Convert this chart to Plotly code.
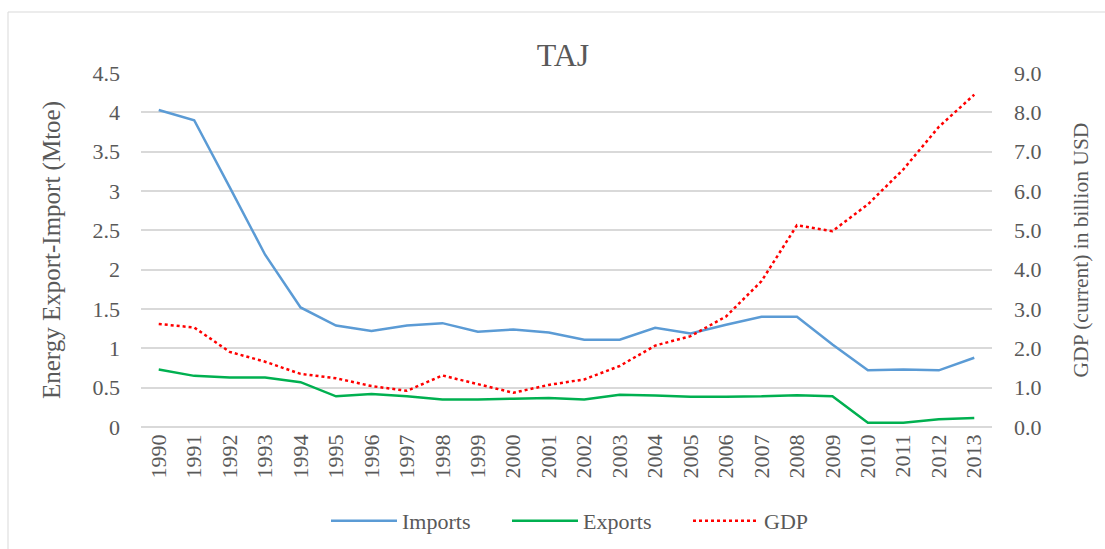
import plotly.graph_objects as go

years = [str(y) for y in range(1990, 2014)]
imports = [4.03, 3.90, 3.05, 2.19, 1.52, 1.29, 1.22, 1.29, 1.32, 1.21, 1.24, 1.20,
           1.11, 1.11, 1.26, 1.19, 1.30, 1.40, 1.40, 1.05, 0.72, 0.73, 0.72, 0.88]
exports = [0.73, 0.65, 0.63, 0.63, 0.57, 0.39, 0.42, 0.39, 0.35, 0.35, 0.36, 0.37,
           0.35, 0.41, 0.40, 0.385, 0.385, 0.39, 0.405, 0.39, 0.055, 0.055, 0.097, 0.114]
gdp = [2.62, 2.53, 1.91, 1.66, 1.35, 1.24, 1.04, 0.92, 1.31, 1.09, 0.87, 1.07,
       1.21, 1.55, 2.07, 2.31, 2.81, 3.71, 5.13, 4.98, 5.66, 6.55, 7.63, 8.45]

font_family = "Liberation Serif, Times New Roman, serif"
grey = "#595959"

fig = go.Figure()
fig.add_trace(go.Scatter(x=years, y=imports, name="Imports", mode="lines",
                         line=dict(color="#5b9bd5", width=2.5)))
fig.add_trace(go.Scatter(x=years, y=exports, name="Exports", mode="lines",
                         line=dict(color="#00b050", width=2.5)))
fig.add_trace(go.Scatter(x=years, y=gdp, name="GDP", mode="lines", yaxis="y2",
                         line=dict(color="#ff0000", width=2.5, dash="dot")))

fig.update_layout(
    width=1105, height=549,
    margin=dict(l=141, r=113, t=73, b=122, autoexpand=False),
    paper_bgcolor="white", plot_bgcolor="white",
    font=dict(family=font_family, color=grey, size=22),
    title=dict(text="TAJ", x=563 / 1105, xanchor="center", y=1 - 55 / 549, yanchor="middle",
               font=dict(size=32, color=grey, family=font_family)),
    xaxis=dict(type="category", range=[-0.5, len(years) - 0.5], tickangle=-90,
               showgrid=False, showline=False, ticks="", tickfont=dict(size=22, color=grey),
               automargin=False, ticklabelstandoff=2),
    yaxis=dict(range=[0, 4.5], dtick=0.5, tick0=0, showgrid=True, gridcolor="#d9d9d9",
               gridwidth=1.5, zeroline=True, zerolinecolor="#d9d9d9", zerolinewidth=1.5,
               title=dict(text="Energy Export-Import (Mtoe)", font=dict(size=25, color=grey), standoff=24),
               tickfont=dict(size=22, color=grey), ticklabelstandoff=20, automargin=False),
    yaxis2=dict(range=[0, 9], dtick=1, tick0=0, overlaying="y", side="right",
                showgrid=False, zeroline=False, tickformat=".1f",
                title=dict(text="GDP (current) in billion USD", font=dict(size=21.5, color=grey), standoff=32),
                tickfont=dict(size=22, color=grey), ticklabelstandoff=21, automargin=False),
    legend=dict(orientation="h", x=(326 - 141) / 851, xanchor="left", y=-94 / 354, yanchor="middle",
                font=dict(size=22, color=grey), itemwidth=66, entrywidth=100,
                tracegroupgap=0),
    showlegend=True,
)

fig.add_shape(type="rect", xref="paper", yref="paper",
              x0=-133 / 851, x1=(1115 - 141) / 851, y0=(427 - 560) / 354, y1=(427 - 12) / 354,
              line=dict(color="#d9d9d9", width=1), fillcolor="rgba(0,0,0,0)", layer="below")

fig.write_html("out.html", config={"displayModeBar": False},
               post_script="document.body.style.margin='0';")
